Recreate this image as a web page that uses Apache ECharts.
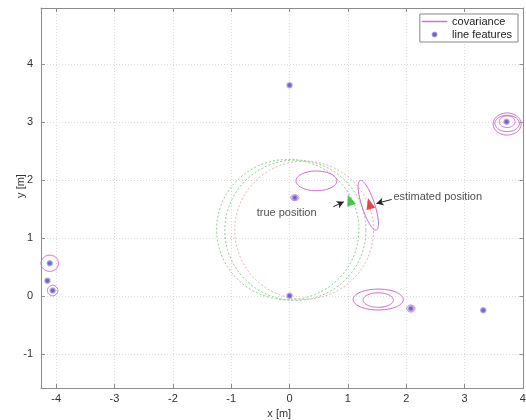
<!DOCTYPE html>
<html>
<head>
<meta charset="utf-8">
<script src="https://cdn.jsdelivr.net/npm/echarts@6/dist/echarts.min.js"></script>
<style>html,body{margin:0;padding:0;background:#fff}#c{width:526px;height:420px}</style>
</head>
<body>
<div id="c"></div>
<script>
// ---- data ----
var xTicks = [-4, -3, -2, -1, 0, 1, 2, 3, 4];
var yTicks = [-1, 0, 1, 2, 3, 4];
// line features (map landmarks) [x, y]
var lineFeatures = [
  [0.00, 3.64], [0.09, 1.70], [0.00, 0.01],
  [-4.11, 0.57], [-4.15, 0.27], [-4.06, 0.10],
  [2.08, -0.21], [3.32, -0.24], [3.72, 3.01]
];
// covariance ellipses [cx, cy, semiA, semiB, angleDeg]
var covariance = [
  [0.46, 1.99, 0.35, 0.17, 0],
  [1.35, 1.57, 0.45, 0.11, 108],
  [1.52, -0.055, 0.43, 0.18, 0],
  [1.52, -0.064, 0.26, 0.125, 0],
  [3.73, 2.97, 0.24, 0.19, 0],
  [3.73, 2.98, 0.21, 0.14, 0],
  [3.73, 3.01, 0.135, 0.10, 0],
  [-4.11, 0.57, 0.15, 0.14, 0],
  [-4.06, 0.10, 0.09, 0.09, 0],
  [2.08, -0.21, 0.07, 0.06, 0],
  [0.09, 1.70, 0.07, 0.05, 0]
];
// sensor range circles [cx, cy, r, r, 0]
var rangeGreen = [[-0.03, 1.15, 1.22, 1.21, 0], [0.10, 1.14, 1.21, 1.21, 0]];
var rangePink = [[0.25, 1.14, 1.19, 1.19, 0]];
var truePos = [[1.03, 1.66]];
var estPos = [[1.37, 1.60]];
var labels = [
  {name: 'true position', value: [-0.05, 1.43]},
  {name: 'estimated position', value: [1.78, 1.72]}
];
var arrows = [
  [[0.75, 1.545], [0.93, 1.63]],
  [[1.75, 1.67], [1.49, 1.60]]
];

function ellipseRenderer(stroke, dash) {
  return function (params, api) {
    var cx = api.value(0), cy = api.value(1), a = api.value(2), b = api.value(3);
    var ang = api.value(4) * Math.PI / 180;
    var pts = [];
    var n = 90;
    for (var i = 0; i < n; i++) {
      var t = 2 * Math.PI * i / n;
      var ex = a * Math.cos(t), ey = b * Math.sin(t);
      var x = cx + ex * Math.cos(ang) - ey * Math.sin(ang);
      var y = cy + ex * Math.sin(ang) + ey * Math.cos(ang);
      pts.push(api.coord([x, y]));
    }
    return {
      type: 'polygon',
      shape: {points: pts},
      style: {fill: 'none', stroke: stroke, lineWidth: 1, lineDash: dash || null}
    };
  };
}

var font = 'Liberation Sans, Arial, sans-serif';
var frameColor = '#8c8c8c';
function makeAxis(isX, pos, show) {
  var ticks = isX ? xTicks : yTicks;
  return {
    type: 'value',
    position: pos,
    min: isX ? -4.26 : -1.58,
    max: isX ? 4.01 : 4.97,
    name: show ? (isX ? 'x [m]' : 'y [m]') : '',
    nameLocation: 'middle',
    nameGap: isX ? 19 : 15,
    nameMoveOverlap: isX,
    nameTextStyle: {fontFamily: font, fontSize: 11, color: '#333', padding: isX ? [0, 6, 0, 0] : [0, 0, 0, 24]},
    axisLine: {show: true, onZero: false, lineStyle: {color: frameColor, width: 1}},
    axisTick: {show: true, inside: true, length: 4, customValues: ticks, lineStyle: {color: frameColor}},
    axisLabel: {show: show, customValues: ticks, fontFamily: font, fontSize: 11, color: '#333', margin: isX ? 5 : 8},
    splitLine: {show: show, lineStyle: {color: '#dadada', type: [1, 2], width: 1}}
  };
}

var chart = echarts.init(document.getElementById('c'), null, {renderer: 'canvas'});
chart.setOption({
  animation: false,
  backgroundColor: '#fff',
  grid: {left: 41, right: 2.5, top: 8, bottom: 32, containLabel: false, outerBoundsMode: 'none'},
  xAxis: [makeAxis(true, 'bottom', true), makeAxis(true, 'top', false)],
  yAxis: [makeAxis(false, 'left', true), makeAxis(false, 'right', false)],
  legend: {
    right: 8, top: 14, orient: 'vertical', align: 'left',
    itemWidth: 25, itemHeight: 5, itemGap: 2,
    padding: [2, 6, 2, 2],
    borderColor: '#888', borderWidth: 1, backgroundColor: '#fff',
    textStyle: {fontFamily: font, fontSize: 11, color: '#222'},
    data: [
      {name: 'covariance', icon: 'path://M0,0H25V1H0Z',
        itemStyle: {color: '#d070d0', borderColor: '#d070d0', borderWidth: 0.5}},
      {name: 'line features', icon: 'circle', itemStyle: {color: '#4b3cc0', borderColor: '#a89ae6', borderWidth: 1}}
    ]
  },
  series: [
    {
      type: 'custom', name: 'range1', silent: true,
      renderItem: ellipseRenderer('#90cc90', [2, 2]),
      encode: {x: 0, y: 1}, data: rangeGreen, z: 2
    },
    {
      type: 'custom', name: 'range2', silent: true,
      renderItem: ellipseRenderer('#e2b4ac', [2, 2]),
      encode: {x: 0, y: 1}, data: rangePink, z: 2
    },
    {
      type: 'custom', name: 'covariance', silent: true,
      renderItem: ellipseRenderer('#cc66cc'),
      itemStyle: {color: '#cc66cc'},
      encode: {x: 0, y: 1}, data: covariance, z: 3
    },
    {
      type: 'scatter', name: 'line features', symbol: 'circle', symbolSize: 5,
      itemStyle: {color: '#4b3cc0', borderColor: '#a89ae6', borderWidth: 1.5},
      data: lineFeatures, z: 5
    },
    {
      type: 'scatter', name: 'true', symbol: 'triangle', symbolSize: [9, 11], symbolRotate: 20,
      itemStyle: {color: '#22b022'}, data: truePos, z: 6
    },
    {
      type: 'scatter', name: 'est', symbol: 'triangle', symbolSize: [9, 11], symbolRotate: 15,
      itemStyle: {color: '#dd1a1a'}, data: estPos, z: 6
    },
    {
      type: 'scatter', name: 'annot', symbolSize: 0, silent: true, z: 7,
      data: labels,
      label: {
        show: true, formatter: '{b}', fontFamily: font, fontSize: 11, color: '#222',
        position: 'inside'
      },
      labelLayout: function (p) {
        return p.dataIndex === 1 ? {align: 'left'} : {align: 'center'};
      },
      markLine: {
        silent: true, symbol: ['none', 'arrow'], symbolSize: [6, 7],
        label: {show: false},
        lineStyle: {color: '#222', type: 'solid', width: 1},
        data: arrows.map(function (a) { return [{coord: a[0]}, {coord: a[1]}]; })
      }
    }
  ]
});
</script>
</body>
</html>
